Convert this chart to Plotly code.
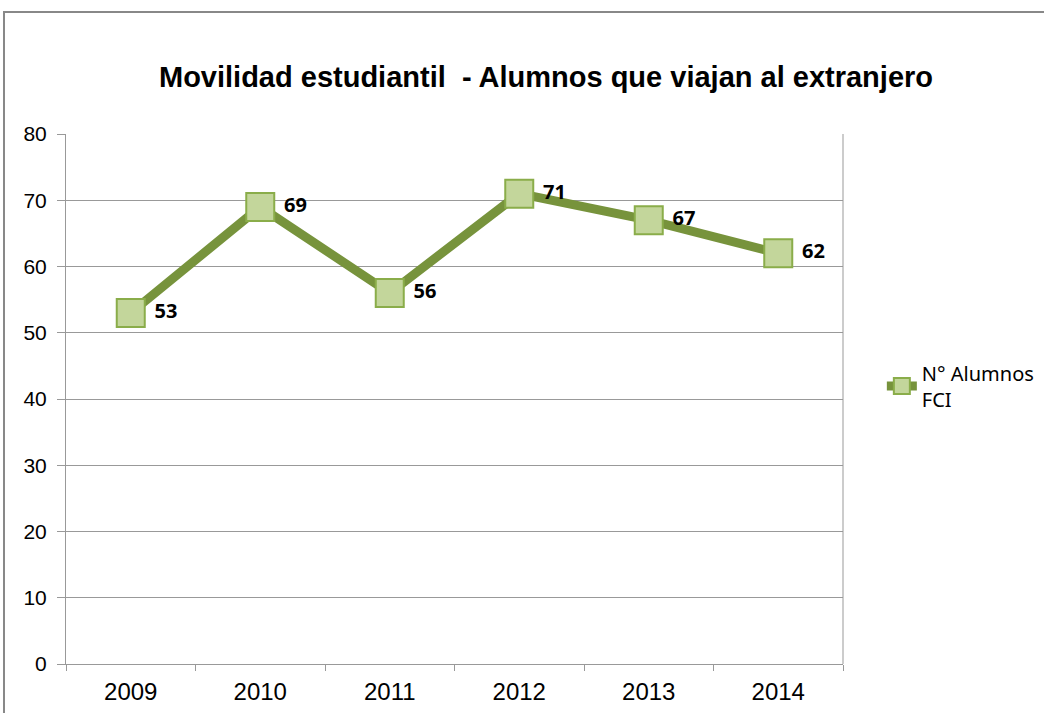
import plotly.graph_objects as go

years = ["2009", "2010", "2011", "2012", "2013", "2014"]
alumnos = [53, 69, 56, 71, 67, 62]
y_ticks = [0, 10, 20, 30, 40, 50, 60, 70, 80]

fig = go.Figure()
fig.add_trace(go.Scatter(
    x=years, y=alumnos,
    name="N° Alumnos<br>FCI",
    mode="lines+markers+text",
    line=dict(color="#77933C", width=9),
    marker=dict(symbol="square", size=28, color="#C3D69B",
                line=dict(color="#8AAD4A", width=2)),
    text=[str(v) for v in alumnos],
    textposition="middle right",
    textfont=dict(family="Noto Sans, DejaVu Sans", size=20, color="#000000"),
    texttemplate=" <b>%{text}</b>",
    cliponaxis=False,
))

fig.update_layout(
    width=1044, height=713,
    margin=dict(l=66, r=201, t=134, b=49, autoexpand=False),
    paper_bgcolor="white", plot_bgcolor="white",
    title=dict(text="<b>Movilidad estudiantil  - Alumnos que viajan al extranjero</b>",
               x=0.523, xanchor="center", y=0.892, yanchor="middle",
               font=dict(family="Liberation Sans, Arial", size=29, color="#000000")),
    font=dict(family="Liberation Sans, Arial", size=20, color="#000000"),
    showlegend=True,
    legend=dict(x=1.05, y=0.5245, xanchor="left", yanchor="middle",
                font=dict(family="Noto Sans, Open Sans", size=20, color="#000000"),
                bgcolor="rgba(0,0,0,0)"),
    xaxis=dict(type="category", range=[-0.5, 5.5], tickson="boundaries",
               ticks="outside", ticklen=6, tickcolor="#999999",
               showline=True, linecolor="#999999", linewidth=1, automargin=False,
               showgrid=False, tickfont=dict(size=24), ticklabelstandoff=6),
    yaxis=dict(range=[0, 80], tickvals=y_ticks, ticks="outside", ticklen=8,
               tickcolor="#999999", showline=True, linecolor="#999999",
               showgrid=True, gridcolor="#999999", gridwidth=1, automargin=False,
               zeroline=False, tickfont=dict(size=21), ticklabelstandoff=6),
)

# right border of plot area
fig.add_shape(type="line", xref="paper", yref="paper", x0=1, x1=1, y0=0, y1=1,
              line=dict(color="#999999", width=1))
# outer chart frame
fig.add_shape(type="rect", xref="paper", yref="paper",
              x0=-0.0798, x1=2, y0=-1, y1=1.2302,
              line=dict(color="#888888", width=2))

fig.write_html("out.html", config={"displayModeBar": False},
               post_script="document.body.style.margin='0';"
                           "document.body.style.overflow='hidden';")
